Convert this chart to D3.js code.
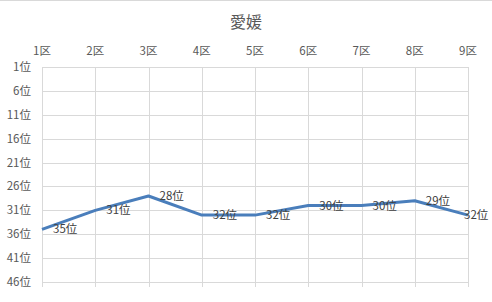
<!DOCTYPE html>
<html><head><meta charset="utf-8">
<script src="https://cdn.jsdelivr.net/npm/d3@7"></script>
<style>body{margin:0;background:#fff}svg{display:block;font-family:"Noto Sans CJK JP","Noto Sans",sans-serif}</style>
</head><body>
<script>
const title = "愛媛";
const categories = ["1区","2区","3区","4区","5区","6区","7区","8区","9区"];
const ranks = [35,31,28,32,32,30,30,29,32];
const yTicks = [1,6,11,16,21,26,31,36,41,46];

(function(){
const W=492,H=302;
const svg=d3.select("body").append("svg").attr("width",W).attr("height",H);
svg.append("rect").attr("width",W).attr("height",H).attr("fill","#fff");
svg.append("line").attr("x1",0).attr("x2",W).attr("y1",0.5).attr("y2",0.5).attr("stroke","#d9d9d9");
const pl=42,pr=468,pt=67,pb=282;
const x=d3.scalePoint().domain(categories).range([pl,pr]);
const y=d3.scaleLinear().domain([1,46]).range([pt,pb]);

svg.append("text").attr("x",246).attr("y",28).attr("text-anchor","middle")
  .attr("font-size",16).attr("fill","#595959").text(title);

svg.append("g").selectAll("line").data(yTicks).join("line")
  .attr("x1",pl).attr("x2",pr).attr("y1",d=>Math.round(y(d))+0.5).attr("y2",d=>Math.round(y(d))+0.5)
  .attr("stroke","#d9d9d9").attr("stroke-width",1);
svg.append("g").selectAll("line").data(categories).join("line")
  .attr("x1",d=>Math.round(x(d))+0.5).attr("x2",d=>Math.round(x(d))+0.5).attr("y1",pt).attr("y2",pb+5)
  .attr("stroke","#d9d9d9").attr("stroke-width",1);

svg.append("g").selectAll("text").data(yTicks).join("text")
  .attr("x",31).attr("y",d=>y(d)).attr("dy","0.35em").attr("text-anchor","end")
  .attr("font-size",11.5).attr("fill","#595959").text(d=>d+"位");
svg.append("g").selectAll("text").data(categories).join("text")
  .attr("x",d=>x(d)).attr("y",51).attr("dy","0.35em").attr("text-anchor","middle")
  .attr("font-size",11.5).attr("fill","#595959").text(d=>d);

const line=d3.line().x((d,i)=>x(categories[i])).y(d=>y(d));
svg.append("path").datum(ranks).attr("d",line).attr("fill","none")
  .attr("stroke","#4a7ebb").attr("stroke-width",3).attr("stroke-linejoin","round");

svg.append("g").selectAll("text").data(ranks).join("text")
  .attr("x",(d,i)=>Math.min(x(categories[i])+11, W-28)).attr("y",d=>y(d)).attr("dy","0.35em")
  .attr("font-size",11.5).attr("fill","#404040").text(d=>d+"位");
})();
</script>
</body></html>
